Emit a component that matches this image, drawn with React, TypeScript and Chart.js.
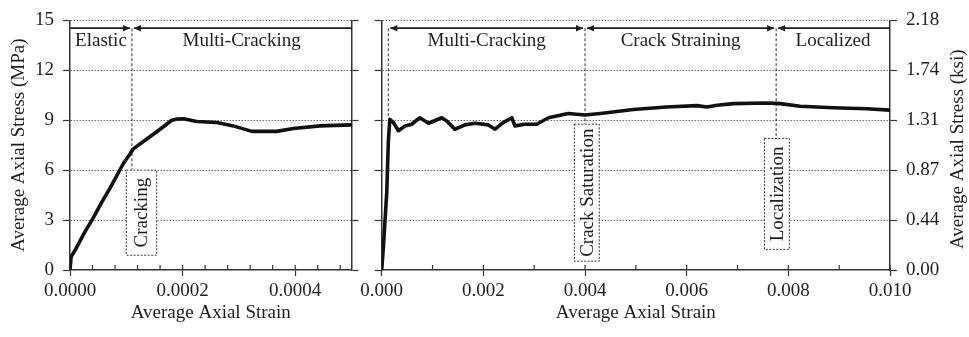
import React, { useEffect, useRef } from 'react';
import { Chart, registerables } from 'chart.js';
Chart.register(...registerables);

// ---------- data ----------
const leftStrain = [0, 0.000002, 0.0000089, 0.000025, 0.0000415, 0.000056, 0.0000711, 0.0000948, 0.000105, 0.0001126, 0.0001363, 0.00016, 0.0001807, 0.00019, 0.0002015, 0.000225, 0.000261, 0.00029, 0.000323, 0.000367, 0.000397, 0.000444, 0.0005];
const leftStress = [0, 0.8, 1.18, 2.2, 3.15, 4.05, 4.92, 6.4, 6.9, 7.28, 7.87, 8.46, 9.0, 9.07, 9.09, 8.92, 8.86, 8.66, 8.33, 8.33, 8.5, 8.66, 8.72];

const rightStrain = [0, 0.000033, 0.0001, 0.00013, 0.00016, 0.00023, 0.00033, 0.00046, 0.00059, 0.00075, 0.00092, 0.00118, 0.00128, 0.00144, 0.00164, 0.00184, 0.0021, 0.00223, 0.00239, 0.00256, 0.00262, 0.00282, 0.00305, 0.00328, 0.00367, 0.004, 0.0043, 0.00495, 0.0056, 0.0062, 0.0064, 0.0066, 0.00692, 0.00757, 0.00784, 0.00823, 0.00888, 0.00954, 0.01];
const rightStress = [0, 1.38, 4.7, 7.68, 9.06, 8.86, 8.37, 8.66, 8.76, 9.15, 8.82, 9.15, 8.96, 8.46, 8.72, 8.82, 8.72, 8.46, 8.86, 9.15, 8.66, 8.76, 8.76, 9.15, 9.41, 9.31, 9.41, 9.65, 9.8, 9.88, 9.8, 9.9, 10.0, 10.04, 10.0, 9.84, 9.75, 9.69, 9.61];

// stress axis (MPa), secondary axis in ksi
const stressRange = [0, 15];
const stressStep = 3;
const MPA_PER_KSI = 6.895;

// strain axes
const leftStrainRange = [0, 0.0005];
const leftStrainStep = 0.00004;
const rightStrainRange = [0, 0.01];
const rightStrainStep = 0.001;

// phases
const leftPhaseEdges = [0, 0.00011, 0.0005];
const leftPhaseNames = ['Elastic', 'Multi-Cracking'];
const rightPhaseEdges = [0.00013, 0.004, 0.00776, 0.01];
const rightPhaseNames = ['Multi-Cracking', 'Crack Straining', 'Localized'];
const phaseArrowStress = 14.53;
const phaseLabelStress = 13.76;

// transition markers (strain, stress where the dashed line ends)
const leftMarkerStrain = [0.00011];
const leftMarkerEnd = [6.0];
const rightMarkerStrain = [0.00013, 0.004, 0.00776];
const rightMarkerEnd = [9.15, 8.76, 7.91];

// event boxes
const leftEventNames = ['Cracking'];
const leftEventStrain = [[0.0001, 0.000154]];
const leftEventStress = [[0.89, 6.0]];
const rightEventNames = ['Crack Saturation', 'Localization'];
const rightEventStrain = [[0.00379, 0.00428], [0.00753, 0.00802]];
const rightEventStress = [[0.53, 8.76], [1.24, 7.91]];

// ---------- style ----------
const FONT_FAMILY = "'Liberation Serif', 'Times New Roman', Times, serif";
const FONT_SIZE = 19;
const INK = '#1e1e1e';
const AXIS = '#333333';
const GRID = '#6a6a6a';
const PLOT_TOP = 16;
const PLOT_BOTTOM = 270;
const H = 337;

function drawArrowHead(ctx, tipX, y, dir) {
  ctx.beginPath();
  ctx.moveTo(tipX, y);
  ctx.lineTo(tipX + 7 * dir, y - 3.2);
  ctx.lineTo(tipX + 7 * dir, y + 3.2);
  ctx.closePath();
  ctx.fill();
}

function makePlugin(p) {
  return {
    id: 'phaseAnnotations',
    beforeDatasetsDraw(chart) {
      const { ctx, chartArea: ca } = chart;
      const xs = chart.scales.x;
      const ys = chart.scales.y;
      const fontStr = `${FONT_SIZE}px ${FONT_FAMILY}`;
      ctx.save();
      // inward tick marks on strain axis
      ctx.strokeStyle = AXIS;
      ctx.lineWidth = 1.2;
      ctx.beginPath();
      xs.ticks.forEach((t) => {
        const px = xs.getPixelForValue(t.value);
        ctx.moveTo(px, ca.bottom);
        ctx.lineTo(px, ca.bottom - 5);
      });
      ctx.stroke();

      // dashed transition markers
      const ay = ys.getPixelForValue(phaseArrowStress);
      ctx.setLineDash([3, 2]);
      ctx.lineWidth = 1;
      ctx.strokeStyle = AXIS;
      p.markerStrain.forEach((mx, i) => {
        const px = xs.getPixelForValue(mx);
        ctx.beginPath();
        ctx.moveTo(px, ay);
        ctx.lineTo(px, ys.getPixelForValue(p.markerEnd[i]));
        ctx.stroke();
      });

      // event boxes
      p.eventNames.forEach((name, i) => {
        const x0 = xs.getPixelForValue(p.eventStrain[i][0]);
        const x1 = xs.getPixelForValue(p.eventStrain[i][1]);
        const y0 = ys.getPixelForValue(p.eventStress[i][0]);
        const y1 = ys.getPixelForValue(p.eventStress[i][1]);
        ctx.setLineDash([2, 1.5]);
        ctx.strokeStyle = AXIS;
        ctx.lineWidth = 1;
        ctx.clearRect(x0, y1, x1 - x0, y0 - y1);
        ctx.strokeRect(x0, y1, x1 - x0, y0 - y1);
        ctx.setLineDash([]);
        ctx.save();
        ctx.translate((x0 + x1) / 2, (y0 + y1) / 2);
        ctx.rotate(-Math.PI / 2);
        ctx.font = fontStr;
        ctx.fillStyle = INK;
        ctx.textAlign = 'center';
        ctx.textBaseline = 'middle';
        ctx.fillText(name, 0, 1);
        ctx.restore();
      });

      // phase arrows and names
      const ly = ys.getPixelForValue(phaseLabelStress);
      ctx.setLineDash([]);
      ctx.strokeStyle = INK;
      ctx.fillStyle = INK;
      ctx.lineWidth = 1.7;
      ctx.font = fontStr;
      ctx.textAlign = 'center';
      ctx.textBaseline = 'middle';
      for (let i = 0; i < p.phaseNames.length; i++) {
        const a = p.phaseEdges[i];
        const b = p.phaseEdges[i + 1];
        const headA = a > xs.min;
        const headB = b < xs.max;
        const pa = xs.getPixelForValue(a);
        const pb = xs.getPixelForValue(b);
        const xa = headA ? pa + 2 : pa;
        const xb = headB ? pb - 2 : pb;
        ctx.beginPath();
        ctx.moveTo(xa, ay);
        ctx.lineTo(xb, ay);
        ctx.stroke();
        if (headA) drawArrowHead(ctx, xa, ay, 1);
        if (headB) drawArrowHead(ctx, xb, ay, -1);
        ctx.fillText(p.phaseNames[i], (pa + pb) / 2, ly);
      }

      // right-hand axis title, reading upward
      if (p.rightTitle) {
        ctx.save();
        ctx.translate(chart.width - 11, (ca.top + ca.bottom) / 2 + 4);
        ctx.rotate(-Math.PI / 2);
        ctx.font = fontStr;
        ctx.fillStyle = INK;
        ctx.textAlign = 'center';
        ctx.textBaseline = 'middle';
        ctx.fillText(p.rightTitle, 0, 0);
        ctx.restore();
      }
      ctx.restore();
    },
  };
}

function buildChart(canvas, p) {
  const font = { family: FONT_FAMILY, size: FONT_SIZE };
  const isMajor = (v) => Math.round(v / p.xStep) % p.majorEvery === 0;
  const yLeftWidth = p.plotLeft - p.canvasLeft;
  const yRightWidth = p.canvasWidth - (p.plotRight - p.canvasLeft);
  return new Chart(canvas, {
    type: 'line',
    data: {
      datasets: [
        {
          data: p.strain.map((x, i) => ({ x, y: p.stress[i] })),
          borderColor: '#111111',
          borderWidth: 3.6,
          pointRadius: 0,
          borderJoinStyle: 'round',
          borderCapStyle: 'round',
          tension: 0,
          yAxisID: 'y',
        },
      ],
    },
    options: {
      animation: false,
      responsive: false,
      devicePixelRatio: 1,
      layout: { padding: { top: PLOT_TOP, bottom: 0, left: 0, right: 0 } },
      plugins: { legend: { display: false }, tooltip: { enabled: false } },
      scales: {
        x: {
          type: 'linear',
          min: p.xRange[0],
          max: p.xRange[1],
          ticks: {
            stepSize: p.xStep,
            includeBounds: false,
            autoSkip: false,
            maxRotation: 0,
            minRotation: 0,
            padding: 4,
            font,
            color: INK,
            callback: (v) => (isMajor(v) ? Number(v).toFixed(p.decimals) : ''),
          },
          grid: {
            drawOnChartArea: false,
            tickLength: 6,
            tickWidth: 1.2,
            tickColor: (c) => (c.tick && isMajor(c.tick.value) ? AXIS : 'rgba(0,0,0,0)'),
          },
          border: { color: AXIS, width: 1.5 },
          title: { display: true, text: 'Average Axial Strain', font, color: INK, padding: { top: 0, bottom: 13 } },
          afterFit: (s) => {
            s.height = H - PLOT_BOTTOM;
          },
        },
        y: {
          position: 'left',
          min: stressRange[0],
          max: stressRange[1],
          ticks: { stepSize: stressStep, display: p.leftLabels, padding: 9, font, color: INK },
          grid: {
            color: (c) => (c.tick && c.tick.value === 0 ? 'rgba(0,0,0,0)' : GRID),
            lineWidth: 1,
            tickLength: 7,
            tickColor: AXIS,
            tickWidth: 1.2,
          },
          border: { color: AXIS, width: 1.5, dash: [1.5, 1.5] },
          title: {
            display: !!p.leftTitle,
            text: p.leftTitle || '',
            font,
            color: INK,
            padding: { top: 8, bottom: 0 },
          },
          afterFit: (s) => {
            s.width = yLeftWidth;
          },
        },
        y2: {
          position: 'right',
          min: stressRange[0],
          max: stressRange[1],
          ticks: {
            stepSize: stressStep,
            display: p.rightLabels,
            padding: 9,
            font,
            color: INK,
            callback: (v) => (Number(v) / MPA_PER_KSI).toFixed(2),
          },
          grid: { drawOnChartArea: false, tickLength: 7, tickColor: AXIS, tickWidth: 1.2 },
          border: { color: AXIS, width: 1.5 },
          afterFit: (s) => {
            s.width = yRightWidth;
          },
        },
      },
    },
    plugins: [makePlugin(p)],
  });
}

const LEFT_PANEL = {
  canvasLeft: 0,
  canvasWidth: 362,
  plotLeft: 70,
  plotRight: 351.5,
  strain: leftStrain,
  stress: leftStress,
  xRange: leftStrainRange,
  xStep: leftStrainStep,
  majorEvery: 5,
  decimals: 4,
  leftLabels: true,
  rightLabels: false,
  leftTitle: 'Average Axial Stress (MPa)',
  rightTitle: '',
  phaseEdges: leftPhaseEdges,
  phaseNames: leftPhaseNames,
  markerStrain: leftMarkerStrain,
  markerEnd: leftMarkerEnd,
  eventNames: leftEventNames,
  eventStrain: leftEventStrain,
  eventStress: leftEventStress,
};

const RIGHT_PANEL = {
  canvasLeft: 350,
  canvasWidth: 619,
  plotLeft: 381.7,
  plotRight: 890,
  strain: rightStrain,
  stress: rightStress,
  xRange: rightStrainRange,
  xStep: rightStrainStep,
  majorEvery: 2,
  decimals: 3,
  leftLabels: false,
  rightLabels: true,
  leftTitle: '',
  rightTitle: 'Average Axial Stress (ksi)',
  phaseEdges: rightPhaseEdges,
  phaseNames: rightPhaseNames,
  markerStrain: rightMarkerStrain,
  markerEnd: rightMarkerEnd,
  eventNames: rightEventNames,
  eventStrain: rightEventStrain,
  eventStress: rightEventStress,
};

export default function App() {
  const leftRef = useRef<HTMLCanvasElement>(null);
  const rightRef = useRef<HTMLCanvasElement>(null);
  useEffect(() => {
    const c1 = buildChart(leftRef.current, LEFT_PANEL);
    const c2 = buildChart(rightRef.current, RIGHT_PANEL);
    return () => {
      c1.destroy();
      c2.destroy();
    };
  }, []);
  return (
    <div style={{ position: 'absolute', left: 0, top: 0, width: 969, height: H, background: '#ffffff' }}>
      <canvas
        ref={leftRef}
        width={LEFT_PANEL.canvasWidth}
        height={H}
        style={{ position: 'absolute', left: LEFT_PANEL.canvasLeft, top: 0, width: LEFT_PANEL.canvasWidth, height: H }}
      />
      <canvas
        ref={rightRef}
        width={RIGHT_PANEL.canvasWidth}
        height={H}
        style={{ position: 'absolute', left: RIGHT_PANEL.canvasLeft, top: 0, width: RIGHT_PANEL.canvasWidth, height: H }}
      />
    </div>
  );
}
